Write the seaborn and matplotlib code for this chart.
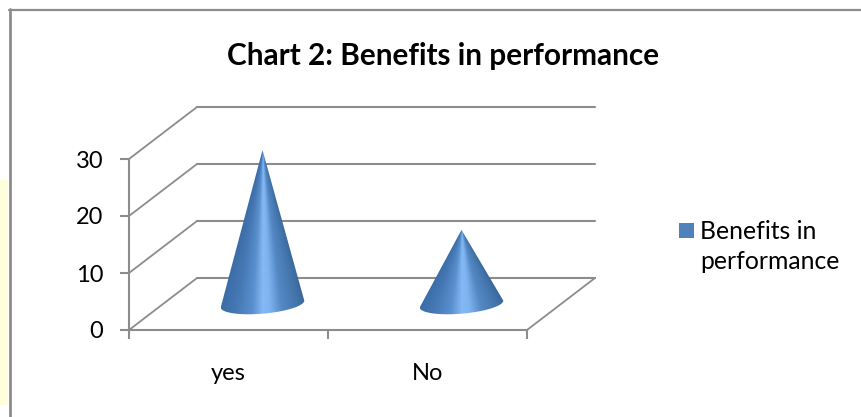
import numpy as np
import pandas as pd
import seaborn as sns
import matplotlib.pyplot as plt
from matplotlib.colors import LinearSegmentedColormap
from matplotlib.lines import Line2D
from matplotlib.patches import Patch, Polygon, Rectangle
from matplotlib.transforms import ScaledTranslation

categories = ["yes", "No"]
benefits = [27, 13]
y_ticks = [0, 10, 20, 30]
series_name = "Benefits in\nperformance"
title = "Chart 2: Benefits in performance"

W, H = 862, 417
GREY = "#8c8c8c"

sns.set_style("white")
plt.rcParams["font.family"] = ["Lato", "DejaVu Sans"]
plt.rcParams["text.color"] = "black"

df = pd.DataFrame({"answer": categories, "benefits": benefits})

fig = plt.figure(figsize=(W / 100, H / 100), dpi=100)
fig.patch.set_facecolor("white")
ax = fig.add_axes([129 / W, (H - 330) / H, 398 / W, 171 / H])
ax.patch.set_visible(False)

sns.barplot(data=df, x="answer", y="benefits", color="#4f81bd", width=0.42, ax=ax)
ax.set_xlim(-0.5, 1.5)
ax.set_ylim(0, 30)
ax.set_yticks(y_ticks)
ax.set_xticks([-0.5, 0.5, 1.5])
ax.set_xticklabels([])
ax.set_xlabel("")
ax.set_ylabel("")
ax.tick_params(axis="both", length=6.5, width=1.5, color=GREY, left=True, bottom=True,
               labelsize=17, labelcolor="black")
ax.tick_params(axis="y", pad=12)
for name, spine in ax.spines.items():
    spine.set_visible(name in ("left", "bottom"))
    spine.set_color(GREY)
    spine.set_linewidth(1.5)

for i, cat in enumerate(categories):
    ax.annotate(cat, (i, 0), xytext=(0, -49.5 * 0.72), xycoords=ax.get_xaxis_transform(),
                textcoords="offset points", ha="center", va="baseline", fontsize=17)

# fake 3d: the back wall is the front plane moved by a fixed pixel offset
depth = ScaledTranslation(68 / 100, 52 / 100, fig.dpi_scale_trans)
back = ax.transData + depth
mid = ax.transData + ScaledTranslation(34 / 100, 26 / 100, fig.dpi_scale_trans)

for v in y_ticks:
    ax.plot([-0.5, 1.5], [v, v], transform=back, color=GREY, lw=1.5, clip_on=False, zorder=1)
    p0 = ax.transData.transform((-0.5, v))
    ax.add_line(Line2D([p0[0], p0[0] + 68], [p0[1], p0[1] + 52], transform=None,
                       color=GREY, lw=1.3, clip_on=False, zorder=1))
p1 = ax.transData.transform((1.5, 0))
ax.add_line(Line2D([p1[0], p1[0] + 68], [p1[1], p1[1] + 52], transform=None,
                   color=GREY, lw=1.3, clip_on=False, zorder=1))

cone_cmap = LinearSegmentedColormap.from_list(
    "cone",
    [(0.0, "#3a6ca6"), (0.2, "#4679b5"), (0.38, "#5a90cf"), (0.5, "#84b9f6"),
     (0.58, "#7db3f0"), (0.72, "#5488c4"), (0.9, "#4476ad"), (1.0, "#3b699c")],
)

# each bar from seaborn is turned into a shaded cone of the same height and width
for bar in list(ax.patches):
    cx = bar.get_x() + bar.get_width() / 2
    a = bar.get_width() / 2
    top = bar.get_height()
    tilt, b = 0.6, 1.7

    t = np.linspace(np.pi, 2 * np.pi, 60)
    outline = np.column_stack([cx + a * np.cos(t), tilt * np.cos(t) + b * np.sin(t)])
    outline = np.vstack([outline, [cx, top]])
    cone = Polygon(outline, closed=True, transform=mid, facecolor="none", edgecolor="none")

    xs = np.linspace(cx - a, cx + a, 200)
    ys = np.linspace(-3, top, 300)
    xx, yy = np.meshgrid(xs, ys)
    radius = np.clip((top - yy) / top, 0.02, None) * a
    u = np.clip((xx - cx) / radius, -1, 1) / 2 + 0.5
    im = ax.imshow(u, cmap=cone_cmap, vmin=0, vmax=1, origin="lower", aspect="auto",
                   extent=(cx - a, cx + a, -3, top), interpolation="bilinear",
                   transform=mid, zorder=3)
    im.set_clip_path(cone)
    im.set_clip_box(fig.bbox)
    bar.set_visible(False)

ax.set_xlim(-0.5, 1.5)
ax.set_ylim(0, 30)

fig.text(443 / W, (H - 56) / H, title, ha="center", va="center", fontsize=21.4,
         fontweight="bold", color="black")

leg = fig.legend(handles=[Patch(facecolor="#4f81bd", edgecolor="none", label=series_name)],
                 loc="upper left", bbox_to_anchor=(659 / W, (H - 200) / H), frameon=False,
                 fontsize=17.8, handlelength=0.6, handleheight=0.6, handletextpad=0.27,
                 borderpad=0.3, labelspacing=0)
leg.get_texts()[0].set_linespacing(1.4)
handle = leg.legend_handles[0]
handle.set_y(handle.get_y() + 12.2)

# outer chart frame and the yellow strip of the page behind it
fig.add_artist(Rectangle((0, (H - 405) / H), 8 / W, 225 / H, transform=fig.transFigure,
                         facecolor="#fffedb", edgecolor="none"))
fig.add_artist(Line2D([10 / W, 10 / W], [0, (H - 9) / H], color=GREY, lw=2))
fig.add_artist(Line2D([9 / W, 1], [(H - 10) / H, (H - 10) / H], color=GREY, lw=1.6))

fig.savefig("out.png", dpi=100)
